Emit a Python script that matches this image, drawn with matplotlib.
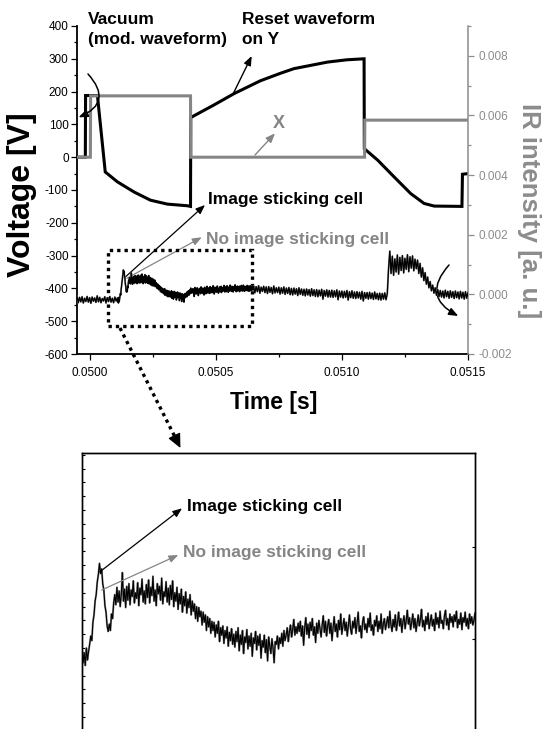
import numpy as np
import matplotlib
matplotlib.use('Agg')
import matplotlib.pyplot as plt
from matplotlib import font_manager
from matplotlib.ticker import MultipleLocator, FixedLocator, FixedFormatter, NullLocator
from matplotlib.patches import Rectangle
from matplotlib.lines import Line2D

plt.rcParams['font.family'] = ['Liberation Sans', 'DejaVu Sans']
plt.rcParams['axes.unicode_minus'] = False

# ---------------- data ----------------
# Reset waveform on Y electrode (black), time [s] / voltage [V]
y_wave_t = [0.04995, 0.049983, 0.049984, 0.050031, 0.050062, 0.050110, 0.050176,
            0.050241, 0.050308, 0.050387, 0.050400, 0.050401, 0.050490, 0.050573,
            0.050677, 0.050757, 0.050810, 0.050943, 0.051020, 0.051088, 0.051089,
            0.051142, 0.051207, 0.051273, 0.051326, 0.051366, 0.051476, 0.051478,
            0.051500]
y_wave_v = [0, 0, 188, 188, -45, -75, -106, -131, -143, -148, -150, 121, 158, 194,
            233, 256, 270, 290, 297, 300, 26, -9, -60, -111, -141, -149, -150, -52,
            -50]

# X electrode waveform (gray)
x_wave_t = [0.04995, 0.050003, 0.050004, 0.050400, 0.050401, 0.051090, 0.051091, 0.051500]
x_wave_v = [0, 0, 187, 187, 0, 0, 113, 113]

# IR intensity (a.u., in units of 1e-4), sampled in three segments
ir_unit = 1e-4
ir_a_start, ir_a_step = 0.04995, 5e-6
ir_a = [-0.6, -2.8, -1.0, -2.5, -0.8, -2.9, -1.3, -2.4, -0.7, -2.6, -1.1, -3.0, -0.9,
        -2.3, -1.2, -2.7, -0.5, -2.5, -1.0, -2.8, -1.4, -2.2, -0.8, -2.9, -1.1, -2.4,
        -0.7, -2.6, -1.3, -2.8, -0.9, -2.2]
ir_b_start, ir_b_step = 0.05011, 1.5e-6
ir_b = [-1.2, -2.6, -1.5, -2.9, -1.0, -2.3, -1.4, -0.6, 0.3, -0.2, 1.8, 2.6, 4.1, 4.8, 6.2, 7.0, 8.2, 7.1, 7.6, 6.0,
        5.3, 3.6, 2.9, 1.4, 0.8, 1.6, 0.9, 2.7, 2.2, 3.9, 4.8, 3.7, 5.6, 4.0, 5.2, 3.5, 4.9, 7.2, 4.1, 5.4,
        3.4, 5.7, 4.2, 6.0, 3.7, 5.3, 4.6, 6.3, 3.9, 5.0, 4.4, 6.1, 3.6, 5.5, 4.8, 6.5, 4.0, 5.2, 3.8, 5.9,
        4.5, 6.4, 3.9, 5.6, 4.7, 6.8, 4.1, 5.3, 3.6, 6.0, 4.9, 5.7, 4.2, 6.6, 3.8, 5.1, 4.6, 6.2, 4.0, 5.5,
        3.7, 5.8, 4.3, 6.3, 3.5, 5.0, 4.1, 5.6, 3.2, 4.9, 3.8, 5.4, 2.9, 4.6, 3.6, 5.1, 2.8, 4.3, 3.4, 4.8,
        2.6, 4.1, 3.0, 3.8, 2.2, 3.5, 1.9, 3.4, 2.4, 3.0, 1.5, 2.9, 1.8, 2.6, 0.9, 2.4, 1.3, 2.2, 0.6, 1.9,
        0.9, 1.8, 0.2, 1.5, 0.6, 1.9, -0.3, 1.2, 0.4, 1.4, -0.5, 0.9, 0.1, 1.3, -0.8, 0.7, -0.2, 1.1, -0.6, 0.5,
        -0.9, 0.8, -0.3, 1.2, -1.3, 0.4, -0.6, 0.9, -1.6, 0.2, -0.4, 1.0, -1.1, 0.3, -0.8, 0.6, -1.9, 0.1, -0.5, 0.8,
        -1.2, 0.3, -0.7, 0.5, -2.1, -0.2, -0.9, 0.4, -1.5, -0.1, -2.4, 0.2, -0.8, -1.6, 0.0, -1.0, -2.6, -0.3, -0.6, 0.3,
        -1.1, 0.1, -0.5, 0.6, -0.8, 0.9, -0.2, 0.4, 1.2, -0.3, 0.8, 1.5, 0.2, 1.0, 2.1, 0.4, 1.3, 0.6, 1.7, 0.8,
        1.9, 0.3, 1.4, -0.7, 1.2, 2.3, 0.5, 1.6, 0.1, 1.8, 0.9, 2.2, 0.4, 1.3, -0.4, 1.7, 0.6, 2.0, 1.1, 0.2,
        1.5, 2.5, 0.7, 1.9, 0.3, 1.4, 2.1, 0.6, 1.7, -0.2, 1.2, 2.4, 0.8, 1.6, 0.2, 2.0, 1.0, 2.7, 0.5, 1.4,
        2.2, 0.9, 1.8, 0.3, 1.5, 2.6, 1.1, 0.5, 1.9, 1.2, 2.3, 0.6, 1.7, 2.9, 0.8, 1.4, 0.1, 1.8, 2.4, 1.0,
        1.6, 0.7, 2.2, 1.3, 2.8, 0.9, 1.5, 0.4, 2.0, 1.4, 2.5, 0.8, 1.9, 1.1, 2.7, 0.6, 1.6, 2.2, 1.0, 1.7,
        2.4, 1.2, 3.0, 1.5, 0.8, 2.1, 1.3, 2.6, 0.9, 1.8, 2.9, 1.4, 2.2, 0.7, 1.9, 2.5, 1.1, 2.0, 3.1, 1.6,
        2.3, 1.0, 1.8, 2.7, 1.2, 2.2, 0.8, 1.7, 2.6, 1.4, 2.1, 3.2, 1.3, 2.0, 0.9, 2.4, 1.6, 2.8, 1.1, 1.9,
        2.6, 1.4, 2.1, 0.9, 2.8, 1.6, 2.3, 1.2, 3.0, 1.7, 2.0, 1.1, 2.5, 3.1, 1.5, 2.2, 1.0, 2.7, 1.8, 2.4,
        1.3, 2.6, 1.9, 3.0, 1.2, 2.1, 1.6, 2.8, 1.0, 2.3, 1.8, 2.9, 1.4, 2.2, 1.1, 2.7, 1.7, 2.4, 1.5, 2.0]
ir_c_start, ir_c_step = 0.05065, 5e-6
ir_c = [2.8, 0.5, 2.6, 0.9, 2.9, 0.4, 2.4, 1.0, 2.7, 0.6,
        2.5, 0.3, 2.6, 0.7, 2.3, 0.2, 2.8, 0.5, 2.2, 0.6,
        2.4, 0.1, 2.2, 0.4, 2.5, 0.0, 2.1, 0.3, 2.3, -0.1,
        2.0, -0.2, 2.1, 0.1, 1.9, -0.4, 2.2, 0.0, 1.8, -0.3,
        1.7, -0.5, 1.8, -0.2, 1.6, -0.6, 1.9, -0.4, 1.5, -0.7,
        1.6, -0.8, 1.4, -0.5, 1.7, -1.6, 1.3, -0.6, 1.5, -0.9,
        1.3, -0.9, 1.4, -1.0, 1.2, -0.8, 1.5, -1.8, 1.1, -0.9,
        1.1, -1.2, 1.0, -1.0, 1.3, -1.9, 0.9, -1.1, 1.2, -1.3,
        0.8, -1.4, 0.9, -1.2, 0.7, -1.6, 1.0, -2.2, 0.6, -1.3,
        0.6, -1.6, 0.7, -1.4, 0.4, -1.7, 0.8, -1.5, 0.3, -1.8,
        0.4, -1.9, 0.3, -1.6, 0.5, -1.8, 0.2,
        8.5, 14.5, 7.0, 12.8, 6.4, 11.9, 7.5, 13.2, 6.8, 12.4, 8.0, 13.0, 7.2, 12.1,
        8.4, 13.3, 7.6, 12.6, 8.8, 12.9, 7.9, 11.8, 8.6, 11.5,
        7.0, 10.4, 5.8, 8.9, 4.6, 7.3, 3.4, 5.8, 2.2, 4.3, 1.2, 3.1, 0.4, 2.2, -0.3,
        1.6, -0.8,
        1.3, -0.9, 1.1, -1.2, 1.4, -0.8, 1.0, -1.3, 1.2, -1.0, 0.9, -1.4, 1.1, -1.1,
        0.8, -1.5, 1.0, -1.2, 0.7, -1.6, 0.9, -1.3, 0.6]

x_ticks = [0.0500, 0.0505, 0.0510, 0.0515]
x_tick_labels = ['0.0500', '0.0505', '0.0510', '0.0515']
v_ticks = [-600, -500, -400, -300, -200, -100, 0, 100, 200, 300, 400]
v_tick_labels = ['-600', '-500', '-400', '-300', '-200', '-100', '0', '100', '200', '300', '400']
ir_ticks = [-0.002, 0.000, 0.002, 0.004, 0.006, 0.008]
ir_tick_labels = ['-0.002', '0.000', '0.002', '0.004', '0.006', '0.008']

# ---------------- build series ----------------
def seg(start, step, vals):
    return start + step * np.arange(len(vals)), np.asarray(vals) * ir_unit

ta, va_ = seg(ir_a_start, ir_a_step, ir_a)
tb, vb = seg(ir_b_start, ir_b_step, ir_b)
tc, vc = seg(ir_c_start, ir_c_step, ir_c)
ir_t = np.concatenate([ta, tb, tc])
ir_v = np.concatenate([va_, vb, vc])

BLACK = '#000000'
GRAY = '#858585'
LGRAY = '#8c8c8c'

W, H = 544, 729
fig = plt.figure(figsize=(W / 100, H / 100), dpi=100)

def fx(px):
    return px / W

def fy(py):
    return 1 - py / H

# ---------------- main axes ----------------
ax = fig.add_axes([fx(77), fy(354), (468 - 77) / W, (354 - 26) / H])
ax.plot(y_wave_t, y_wave_v, color=BLACK, lw=2.2, solid_joinstyle='miter', zorder=2)
ax.plot(x_wave_t, x_wave_v, color=GRAY, lw=2.2, solid_joinstyle='miter', zorder=3)
ax.set_xlim(0.04995, 0.0515)
ax.set_ylim(-600, 400)
ax.xaxis.set_major_locator(FixedLocator(x_ticks))
ax.xaxis.set_major_formatter(FixedFormatter(x_tick_labels))
ax.xaxis.set_minor_locator(MultipleLocator(0.00025))
ax.yaxis.set_major_locator(FixedLocator(v_ticks))
ax.yaxis.set_major_formatter(FixedFormatter(v_tick_labels))
ax.yaxis.set_minor_locator(MultipleLocator(50))
for s in ['top', 'right']:
    ax.spines[s].set_visible(False)
for s in ['left', 'bottom']:
    ax.spines[s].set_linewidth(1.3)
ax.tick_params(which='major', direction='out', length=4, width=0.9, labelsize=8.5)
ax.tick_params(which='minor', direction='out', length=2.3, width=0.9)
ax.tick_params(axis='x', which='major', pad=5.5)
ax.tick_params(axis='y', which='major', pad=2)

ax2 = ax.twinx()
ax2.plot(ir_t, ir_v, color=GRAY, lw=1.3, zorder=2)
ax2.plot(ir_t, ir_v, color=BLACK, lw=0.9, zorder=3)
ax2.set_ylim(-0.002, 0.009)
ax2.yaxis.set_major_locator(FixedLocator(ir_ticks))
ax2.yaxis.set_major_formatter(FixedFormatter(ir_tick_labels))
ax2.yaxis.set_minor_locator(MultipleLocator(0.001))
for s in ['top', 'left', 'bottom']:
    ax2.spines[s].set_visible(False)
ax2.spines['right'].set_color(LGRAY)
ax2.spines['right'].set_linewidth(1.1)
ax2.tick_params(which='major', direction='out', length=4, width=0.9, labelsize=8.5,
                colors=LGRAY, pad=3.5)
ax2.tick_params(which='minor', direction='out', length=2.3, width=0.9, colors=LGRAY)

# axis labels
fig.text(fx(22), fy(195), 'Voltage [V]', rotation=90, ha='center', va='center',
         fontsize=23, fontweight='bold')
fig.text(fx(529), fy(211), 'IR intensity [a. u.]', rotation=270, ha='center', va='center',
         fontsize=18.5, fontweight='bold', color=LGRAY)
try:
    font_manager.findfont(font_manager.FontProperties(family='Liberation Sans Narrow',
                                                      weight='bold'),
                          fallback_to_default=False)
    time_kw = dict(family=['Liberation Sans Narrow', 'DejaVu Sans'], fontsize=19)
except Exception:
    time_kw = dict(fontsize=16.5)
fig.text(fx(274), fy(403), 'Time [s]', ha='center', va='center', fontweight='bold', **time_kw)

# annotations in main axes (axes fraction)
def afx(px):
    return (px - 77) / 391

def afy(py):
    return (354 - py) / 328

TXT = dict(fontsize=12.5, fontweight='bold')
ax.text(afx(88), afy(12), 'Vacuum\n(mod. waveform)', transform=ax.transAxes,
        ha='left', va='top', linespacing=1.4, **TXT)
ax.text(afx(242), afy(12), 'Reset waveform\non Y', transform=ax.transAxes,
        ha='left', va='top', linespacing=1.4, **TXT)
ax.text(afx(273), afy(115), 'X', transform=ax.transAxes, ha='left', va='top',
        color=GRAY, fontsize=13, fontweight='bold')
ax.text(afx(208), afy(204), 'Image sticking cell', transform=ax.transAxes,
        ha='left', va='baseline', **TXT)
ax.text(afx(206.5), afy(244), 'No image sticking cell', transform=ax.transAxes,
        ha='left', va='baseline', color=GRAY, **TXT)

def arrow(a, tail, head, color, lw=0.9, rad=None, hl=0.55, hw=0.22):
    props = dict(arrowstyle=f'-|>,head_length={hl},head_width={hw}', color=color,
                 lw=lw, shrinkA=0, shrinkB=0)
    if rad is not None:
        props['connectionstyle'] = f'arc3,rad={rad}'
    a.annotate('', xy=head, xytext=tail, xycoords='axes fraction',
               textcoords='axes fraction', arrowprops=props, annotation_clip=False)

arrow(ax, (afx(233.3), afy(93.5)), (afx(251.7), afy(56)), BLACK, lw=1.0)
arrow(ax, (afx(255), afy(155)), (afx(275), afy(133.3)), GRAY, lw=1.0)
arrow(ax, (afx(125), afy(277.3)), (afx(205), afy(205)), BLACK)
arrow(ax, (afx(126.7), afy(278.3)), (afx(201.7), afy(237.3)), GRAY)
arrow(ax, (afx(88), afy(74)), (afx(78.5), afy(117.3)), BLACK, lw=1.1, rad=-0.7)
arrow(ax, (afx(449), afy(265)), (afx(458.3), afy(316)), BLACK, lw=1.1, rad=0.64)

# dotted zoom rectangle
ax.add_patch(Rectangle((afx(108), afy(326)), afx(252) - afx(108), afy(250) - afy(326),
                       transform=ax.transAxes, fill=False, lw=2.4, ls=(0, (1, 1.2)),
                       edgecolor=BLACK, clip_on=False, zorder=5))
# dotted arrow to the inset
fig.add_artist(Line2D([fx(120), fx(175)], [fy(328), fy(437)], transform=fig.transFigure,
                      lw=2.4, ls=(0, (1, 1.2)), color=BLACK))
ax.annotate('', xy=(180.4, H - 448), xycoords='figure pixels',
            xytext=(175, H - 437), textcoords='figure pixels',
            arrowprops=dict(arrowstyle='-|>,head_length=0.85,head_width=0.4',
                            color=BLACK, lw=1, shrinkA=0, shrinkB=0),
            annotation_clip=False)

# ---------------- inset ----------------
axi = fig.add_axes([fx(82), fy(786), (475 - 82) / W, (786 - 453) / H])
axi.plot(ir_t, ir_v, color=GRAY, lw=1.4, zorder=2)
axi.plot(ir_t, ir_v, color=BLACK, lw=0.8, zorder=3)
axi.set_xlim(0.05011, 0.05065)
axi.set_ylim(-0.0016, 0.00202)
axi.xaxis.set_major_locator(NullLocator())
axi.yaxis.set_major_locator(MultipleLocator(0.00015, offset=-0.0001))
axi.tick_params(axis='y', direction='in', length=2.4, width=0.8, labelleft=False,
                left=True, right=False)
for s in axi.spines.values():
    s.set_linewidth(1.0)
axi_r = axi.twinx()
axi_r.set_ylim(-0.0016, 0.00202)
axi_r.yaxis.set_major_locator(FixedLocator([-0.001, 0.0, 0.001]))
axi_r.tick_params(axis='y', direction='in', length=2.4, width=0.8, labelright=False)
for s in axi_r.spines.values():
    s.set_linewidth(1.0)

def ifx(px):
    return (px - 82) / 393

def ify(py):
    return (786 - py) / 333

axi.text(ifx(187), ify(511), 'Image sticking cell', transform=axi.transAxes,
         ha='left', va='baseline', **TXT)
axi.text(ifx(182.7), ify(557.3), 'No image sticking cell', transform=axi.transAxes,
         ha='left', va='baseline', color=GRAY, **TXT)
arrow(axi, (ifx(100), ify(571.7)), (ifx(182), ify(508.3)), BLACK)
arrow(axi, (ifx(101.7), ify(590)), (ifx(178.3), ify(555)), GRAY)

fig.savefig('out.png', dpi=100)
